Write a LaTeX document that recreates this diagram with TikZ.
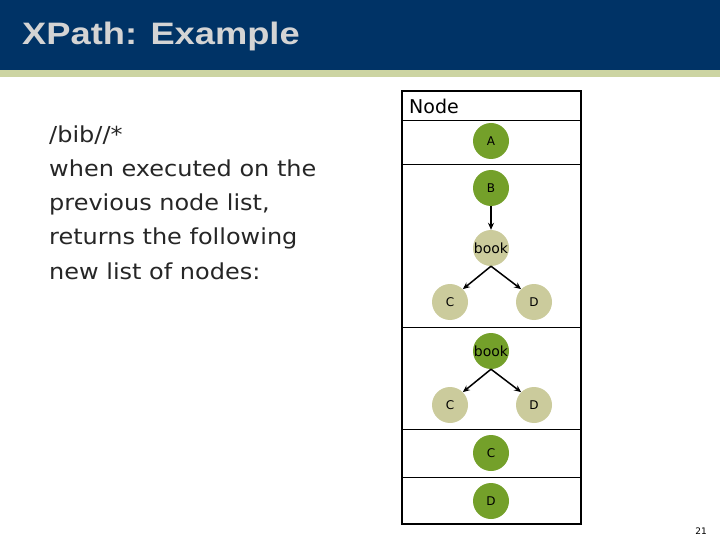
\documentclass[tikz,border=0pt]{standalone}
\usepackage{fontspec}
\setmainfont{DejaVu Sans}
\newfontfamily\titlefont{Liberation Sans}
\usetikzlibrary{arrows.meta}
\definecolor{hdrblue}{HTML}{003366}
\definecolor{hdrolive}{HTML}{CCD4A2}
\definecolor{titlegray}{HTML}{D4D4D4}
\definecolor{ngreen}{HTML}{74A02A}
\definecolor{nbeige}{HTML}{CBCB9C}
\tikzset{
  gnode/.style={circle,fill=ngreen,minimum size=36pt,inner sep=0pt,font=\fontsize{12}{12}\selectfont},
  bnode/.style={circle,fill=nbeige,minimum size=36pt,inner sep=0pt,font=\fontsize{12}{12}\selectfont},
  conn/.style={line width=1.5pt,-{Stealth[length=7pt,width=6pt]}},
  rowline/.style={line width=1pt}
}
\begin{document}
\begin{tikzpicture}[x=1pt,y=-1pt]
\useasboundingbox (0,0) rectangle (720,540);
\fill[hdrblue] (0,0) rectangle (720,70);
\fill[hdrolive] (0,70) rectangle (720,77);
\node[anchor=base west,inner sep=0pt,xscale=1.17,text=titlegray,font=\titlefont\bfseries\fontsize{31}{31}\selectfont] (title) at (22,45) {XPath: Example};
\node[anchor=base west,inner sep=0pt,xscale=1.09,align=left,font=\fontsize{22}{34.1}\selectfont,text=black!85] (body) at (49,279)
 {/bib//*\\when executed on the\\previous node list,\\returns the following\\new list of nodes:};
% table
\draw[line width=1.5pt] (402,91) rectangle (581,524);
\draw[rowline] (402,121) -- (581,121);
\draw[rowline] (402,165) -- (581,165);
\draw[rowline] (402,327) -- (581,327);
\draw[rowline] (402,429) -- (581,429);
\draw[rowline] (402,477) -- (581,477);
\node[anchor=west,inner sep=0pt,font=\fontsize{19}{19}\selectfont] (hdr) at (409,106) {Node};
\node[gnode] (a) at (491,141) {A};
\node[gnode] (b) at (491,188) {B};
\node[bnode,font=\fontsize{14}{14}\selectfont] (book1) at (491,248) {book};
\node[bnode] (c1) at (450,302) {C};
\node[bnode] (d1) at (534,302) {D};
\node[gnode,font=\fontsize{14}{14}\selectfont] (book2) at (491,351) {book};
\node[bnode] (c2) at (450,405) {C};
\node[bnode] (d2) at (534,405) {D};
\node[gnode] (c3) at (491,453) {C};
\node[gnode] (d3) at (491,501) {D};
\draw[conn] (b) -- (book1);
\draw[conn] (book1.south) -- (c1.north east);
\draw[conn] (book1.south) -- (d1.north west);
\draw[conn] (book2.south) -- (c2.north east);
\draw[conn] (book2.south) -- (d2.north west);
\node[font=\fontsize{9}{9}\selectfont] (pg) at (701,531) {21};
\end{tikzpicture}
\end{document}
